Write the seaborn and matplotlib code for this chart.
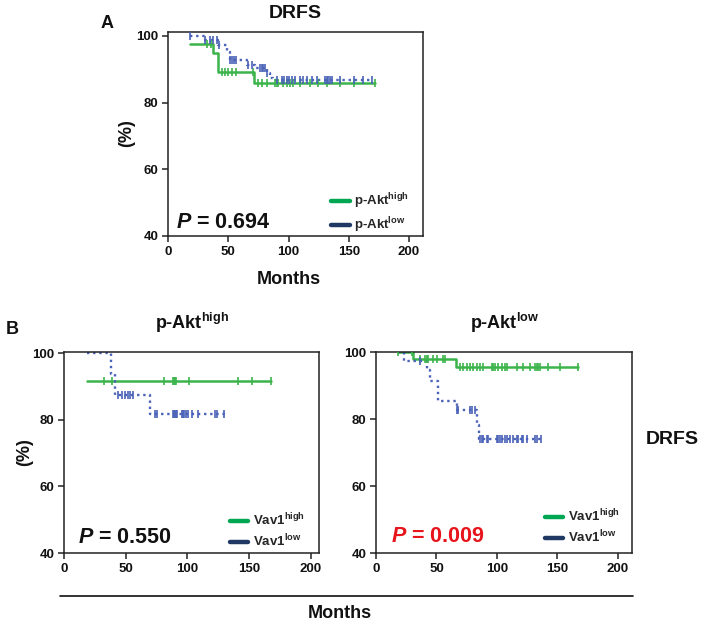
import numpy as np
import pandas as pd
import matplotlib
matplotlib.use("Agg")
import matplotlib.pyplot as plt
from matplotlib.lines import Line2D
import seaborn as sns

# ---------------- data ----------------
# Panel A : DRFS by p-Akt
A_high_t = [18, 37, 41.5, 71, 172]
A_high_s = [97.5, 94.8, 89.1, 85.8, 85.8]
A_high_c = [32, 36, 44.5, 47.3, 50, 52.8, 56.4, 70.8, 75, 77.7, 81.9, 88.8, 90.2,
            91.6, 95.7, 98.5, 101, 104, 109.5, 117.8, 124.7, 131.7, 142.7, 154.4, 171.8]
A_low_t = [18, 30.7, 41.8, 48.7, 51.4, 65.3, 72.2, 81.9, 84.6, 87.4, 169]
A_low_s = [100, 98.8, 97.3, 95.3, 92.8, 91.3, 90.3, 88.8, 87.3, 86.8, 86.8]
A_low_c = [18.2, 30.7, 34.9, 37.6, 40.9, 42.6, 51.4, 52.8, 54.8, 56.4, 66.7, 69.4,
           76.3, 77.7, 79.1, 80.5, 81.9, 90.2, 94.3, 96.3, 98.5, 100.7, 102.6, 105.4,
           109.5, 112.3, 115.6, 119.2, 123.4, 130.3, 131.7, 133.1, 134.4, 135.8,
           142.7, 154.4, 162.2, 169.1]

# Panel B left : p-Akt high, by Vav1
L_high_t = [19, 168]
L_high_s = [91.7, 91.7]
L_high_c = [32.7, 38.6, 81, 88, 89, 90, 91, 101, 140.6, 152.5, 168]
L_low_t = [19, 37.8, 41.3, 69.6, 130]
L_low_s = [100, 93.8, 87.5, 81.8, 81.8]
L_low_c = [44, 46.7, 49.4, 52.1, 53.4, 55.6, 73.7, 75.6, 88, 89, 89.9, 91, 91.7,
           95.3, 96.2, 97.2, 98.8, 100.7, 103.4, 108.8, 122.3, 123.6, 129.6]

# Panel B right : p-Akt low, by Vav1
R_high_t = [18.4, 30.8, 66.1, 167]
R_high_s = [100, 98.1, 95.7, 95.7]
R_high_c = [18.4, 29.5, 36.4, 40.5, 41.9, 43.2, 47.4, 50.7, 55.6, 57, 69.4, 72.2,
            74.9, 77.7, 80.4, 83.2, 86, 88.7, 95.6, 97, 98.3, 101.1, 103.9, 106.6,
            108, 116.3, 121.8, 127.3, 131.4, 132.8, 134.1, 135.5, 142.4, 152.1, 167]
R_low_t = [18.4, 23, 41.9, 44.6, 51.5, 66.7, 83.2, 85, 136]
R_low_s = [100, 97.4, 94.8, 91.5, 85.3, 82.8, 78.2, 74.2, 74.2]
R_low_c = [36.4, 66.7, 68, 77.7, 79, 81.7, 86, 87.3, 88.7, 91.5, 92.8, 99.7, 101.1,
           102.5, 103.9, 106.6, 108, 110.7, 113, 116.3, 117.6, 120.4, 121.8, 124.5,
           131.4, 132.8, 136.1]

p_values = ["0.694", "0.550", "0.009"]
x_ticks = [0, 50, 100, 150, 200]
y_ticks = [40, 60, 80, 100]

# ---------------- style ----------------
sns.set_theme(style="ticks")
plt.rcParams["font.family"] = ["Liberation Sans", "DejaVu Sans"]
plt.rcParams["font.weight"] = "bold"
plt.rcParams["mathtext.fontset"] = "custom"
plt.rcParams["mathtext.rm"] = "Liberation Sans:bold"
plt.rcParams["mathtext.bf"] = "Liberation Sans:bold"
plt.rcParams["mathtext.it"] = "Liberation Sans:italic:bold"

GREEN = "#3cb44b"
BLUE = "#4a62b8"
LEG_GREEN = "#00a651"
LEG_NAVY = "#1f3864"
TXT = "#111111"

W, H = 709, 628
fig = plt.figure(figsize=(W / 100, H / 100), dpi=100)


def fx(px):
    return px / W


def fy(py):
    return 1 - py / H


def step_value(t, s, c):
    idx = np.searchsorted(np.asarray(t), np.asarray(c), side="right") - 1
    idx = np.clip(idx, 0, len(s) - 1)
    return np.asarray(s)[idx]


def km(ax, t, s, c, color, dotted):
    df = pd.DataFrame({"t": t, "s": s})
    ls = (0, (1, 1.6)) if dotted else "-"
    lw = 1.7 if dotted else 1.8
    sns.lineplot(data=df, x="t", y="s", ax=ax, color=color, linestyle=ls,
                 linewidth=lw, drawstyle="steps-post", estimator=None, sort=False)
    cdf = pd.DataFrame({"t": c, "s": step_value(t, s, c)})
    sns.scatterplot(data=cdf, x="t", y="s", ax=ax, marker="|", s=36,
                    color=color, linewidth=1.2, zorder=4)


def style_axes(ax, xmax, ymax):
    ax.set_xlim(0, xmax)
    ax.set_ylim(40, ymax)
    ax.set_xticks(x_ticks)
    ax.set_yticks(y_ticks)
    ax.set_xticklabels([str(v) for v in x_ticks], fontsize=9.5, fontweight="bold", color=TXT)
    ax.set_yticklabels([str(v) for v in y_ticks], fontsize=9.5, fontweight="bold", color=TXT)
    ax.set_xlabel("")
    ax.set_ylabel("")
    for sp in ax.spines.values():
        sp.set_visible(True)
        sp.set_linewidth(1.1)
        sp.set_color("#222222")
    ax.tick_params(direction="out", length=4, width=1.1, color="#222222", pad=3)


def legend(ax, labels, x, y):
    handles = [Line2D([], [], color=LEG_GREEN, lw=3.2),
               Line2D([], [], color=LEG_NAVY, lw=3.2)]
    ax.legend(handles, labels, loc="center left", bbox_to_anchor=(x, y),
              frameon=False, fontsize=9.5, handlelength=1.4, handletextpad=0.35,
              labelspacing=0.35, borderpad=0, borderaxespad=0)


# Panel A
axA = fig.add_axes([fx(168), fy(236), fx(255), 204 / H])
km(axA, A_high_t, A_high_s, A_high_c, GREEN, False)
km(axA, A_low_t, A_low_s, A_low_c, BLUE, True)
style_axes(axA, 211.6, 101.2)
legend(axA, [r"p-Akt$^{\mathbf{high}}$", r"p-Akt$^{\mathbf{low}}$"], 0.64, 0.11)
axA.text(0.03, 0.04, r"$P$ = " + p_values[0], transform=axA.transAxes,
         fontsize=15.5, fontweight="bold", color=TXT, ha="left", va="baseline")

# Panel B left
axL = fig.add_axes([fx(64), fy(553), fx(255), 201 / H])
km(axL, L_high_t, L_high_s, L_high_c, GREEN, False)
km(axL, L_low_t, L_low_s, L_low_c, BLUE, True)
style_axes(axL, 206.5, 100.45)
legend(axL, [r"Vav1$^{\mathbf{high}}$", r"Vav1$^{\mathbf{low}}$"], 0.65, 0.11)
axL.text(0.055, 0.05, r"$P$ = " + p_values[1], transform=axL.transAxes,
         fontsize=15.5, fontweight="bold", color=TXT, ha="left", va="baseline")

# Panel B right
axR = fig.add_axes([fx(376), fy(553), fx(256), 201 / H])
km(axR, R_high_t, R_high_s, R_high_c, GREEN, False)
km(axR, R_low_t, R_low_s, R_low_c, BLUE, True)
style_axes(axR, 211.6, 100.1)
legend(axR, [r"Vav1$^{\mathbf{high}}$", r"Vav1$^{\mathbf{low}}$"], 0.66, 0.13)
axR.text(0.06, 0.055, r"$P$ = " + p_values[2], transform=axR.transAxes,
         fontsize=15.5, fontweight="bold", color="#e8141c", ha="left", va="baseline")

# Figure texts
fig.text(fx(295), fy(13), "DRFS", fontsize=14, fontweight="bold", ha="center", va="center", color=TXT)
fig.text(fx(107), fy(24), "A", fontsize=13, fontweight="bold", ha="center", va="center", color=TXT)
fig.text(fx(12), fy(330), "B", fontsize=13, fontweight="bold", ha="center", va="center", color=TXT)
fig.text(fx(127), fy(133), "(%)", fontsize=13, fontweight="bold", ha="center", va="center",
         rotation=90, color=TXT)
fig.text(fx(25), fy(452), "(%)", fontsize=13, fontweight="bold", ha="center", va="center",
         rotation=90, color=TXT)
fig.text(fx(289), fy(279), "Months", fontsize=13, fontweight="bold", ha="center", va="center", color=TXT)
fig.text(fx(340), fy(614), "Months", fontsize=13, fontweight="bold", ha="center", va="center", color=TXT)
fig.text(fx(672), fy(440), "DRFS", fontsize=14, fontweight="bold", ha="center", va="center", color=TXT)
fig.text(fx(192), fy(323), r"p-Akt$^{\mathbf{high}}$", fontsize=13, fontweight="bold",
         ha="center", va="center", color=TXT)
fig.text(fx(505), fy(323), r"p-Akt$^{\mathbf{low}}$", fontsize=13, fontweight="bold",
         ha="center", va="center", color=TXT)
fig.add_artist(Line2D([fx(60), fx(633)], [fy(596), fy(596)], color="#111111", lw=1.2))

fig.savefig("out.png", dpi=100, facecolor="white")
